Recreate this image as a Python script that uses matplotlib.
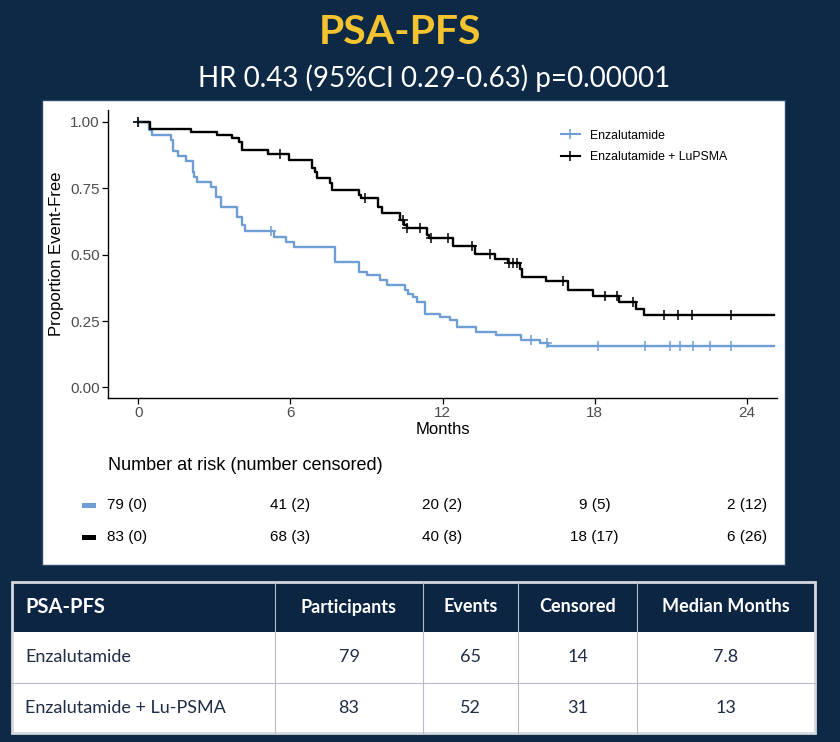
import numpy as np
import matplotlib
matplotlib.use("Agg")
import matplotlib.pyplot as plt
from matplotlib.patches import Rectangle
from matplotlib import transforms

# Kaplan-Meier step data (months, proportion event-free)
enza_times = [0, 0.43, 0.53, 1.29, 1.35, 1.55, 1.87, 2.14, 2.2, 2.33, 2.86, 3.05, 3.25,
              3.9, 4.1, 4.2, 5.35, 5.81, 6.13, 7.77, 8.69, 9.02, 9.54, 9.8, 10.52,
              10.65, 10.85, 11.0, 11.31, 11.9, 12.29, 12.56, 13.31, 14.13, 15.11,
              15.83, 16.16]
enza_surv = [1.0, 0.971, 0.952, 0.933, 0.889, 0.870, 0.851, 0.813, 0.794, 0.775, 0.756,
             0.718, 0.680, 0.642, 0.610, 0.589, 0.567, 0.548, 0.530, 0.473, 0.435,
             0.422, 0.404, 0.385, 0.366, 0.353, 0.340, 0.321, 0.278, 0.265, 0.252,
             0.227, 0.208, 0.196, 0.179, 0.166, 0.155]
enza_censor = [0, 5.22, 15.5, 16.12, 18.15, 19.98, 20.97, 21.37, 21.9, 22.56, 23.4]

lu_times = [0, 0.45, 2.07, 3.1, 3.7, 3.95, 4.1, 5.1, 5.94, 6.85, 6.95, 7.05, 7.55, 7.64,
            8.69, 8.8, 9.47, 9.6, 10.33, 10.5, 10.6, 11.37, 11.45, 12.42, 13.27, 14.06,
            14.58, 15.04, 15.15, 16.09, 16.94, 17.93, 18.97, 19.65, 19.96]
lu_surv = [1.0, 0.974, 0.962, 0.951, 0.939, 0.926, 0.893, 0.880, 0.855, 0.827, 0.813,
           0.788, 0.770, 0.744, 0.725, 0.712, 0.681, 0.656, 0.630, 0.612, 0.599, 0.575,
           0.561, 0.532, 0.502, 0.482, 0.469, 0.445, 0.416, 0.401, 0.368, 0.343, 0.320,
           0.297, 0.274]
lu_censor = [0, 5.58, 8.95, 10.45, 10.6, 11.1, 11.55, 12.2, 13.15, 13.86, 14.62, 14.8,
             14.94, 16.75, 18.4, 18.9, 19.5, 20.74, 21.3, 21.86, 23.4]

follow_up_end = 25.1

risk_months = [0, 6, 12, 18, 24]
risk_enza = ["79 (0)", "41 (2)", "20 (2)", "9 (5)", "2 (12)"]
risk_lu = ["83 (0)", "68 (3)", "40 (8)", "18 (17)", "6 (26)"]

table_cols = ["PSA-PFS", "Participants", "Events", "Censored", "Median Months"]
table_rows = [
    ["Enzalutamide", "79", "65", "14", "7.8"],
    ["Enzalutamide + Lu-PSMA", "83", "52", "31", "13"],
]

NAVY = "#0d2946"
YELLOW = "#f4c430"
BLUE = "#6e9ed3"
W, H = 840, 742

fig = plt.figure(figsize=(W / 100, H / 100), dpi=100, facecolor=NAVY)

# pixel-space background layer
bg = fig.add_axes([0, 0, 1, 1], zorder=0)
bg.set_xlim(0, W)
bg.set_ylim(H, 0)
bg.axis("off")
bg.add_patch(Rectangle((42, 100), 743, 465, facecolor="white", edgecolor="#2c4a6a", lw=1))

fig.text(400 / W, 1 - 32 / H, "PSA-PFS", color=YELLOW, fontsize=29.5, fontweight="bold",
         family="Lato", ha="center", va="center")
fig.text(434 / W, 1 - 78 / H, "HR 0.43 (95%CI 0.29-0.63) p=0.00001", color="white",
         fontsize=20, family="Lato", ha="center", va="center")

# KM plot
ax = fig.add_axes([108 / W, 1 - 398 / H, 669 / W, 288 / H], zorder=1)
ax.set_facecolor("white")


def surv_at(times, surv, t):
    idx = np.searchsorted(times, t, side="right") - 1
    return np.array(surv)[idx]


for times, surv, cens, col, lab in [
    (enza_times, enza_surv, enza_censor, BLUE, "Enzalutamide"),
    (lu_times, lu_surv, lu_censor, "black", "Enzalutamide + LuPSMA"),
]:
    t = list(times) + [follow_up_end]
    s = list(surv) + [surv[-1]]
    ax.step(t, s, where="post", color=col, lw=1.7, label=lab, zorder=2)
    ax.plot(cens, surv_at(times, surv, cens), "+", color=col, ms=7, mew=1.1, zorder=3)

# legend handles with cross markers
hs = [ax.plot([], [], color=c, lw=1.5, marker="+", ms=7, mew=1.1)[0] for c in (BLUE, "black")]
ax.legend(hs, ["Enzalutamide", "Enzalutamide + LuPSMA"], loc="upper left",
          bbox_to_anchor=(0.66, 0.97), frameon=False, prop={"family": "Liberation Sans", "size": 8.8},
          handlelength=1.6, labelspacing=0.8)

ax.set_xlim(-1.2, 25.2)
ax.set_ylim(-0.04, 1.045)
ax.set_xticks(risk_months)
ax.set_yticks([0, 0.25, 0.5, 0.75, 1.0])
ax.set_yticklabels(["0.00", "0.25", "0.50", "0.75", "1.00"])
for sp in ["top", "right"]:
    ax.spines[sp].set_visible(False)
for sp in ["left", "bottom"]:
    ax.spines[sp].set_linewidth(1.0)
ax.tick_params(direction="out", length=4, width=0.9, labelsize=11, labelcolor="#4d4d4d", pad=2)
for lbl in ax.get_xticklabels() + ax.get_yticklabels():
    lbl.set_family("Liberation Sans")
ax.set_xlabel("Months", family="Liberation Sans", fontsize=12, labelpad=1)
ax.set_ylabel("Proportion Event-Free", family="Liberation Sans", fontsize=12, labelpad=4)

# number at risk
trans = transforms.blended_transform_factory(ax.transData, fig.transFigure)
fig.text(108 / W, 1 - 466 / H, "Number at risk (number censored)", family="Liberation Sans",
         fontsize=13, va="center", ha="left")
for row_y, vals, col in [(505, risk_enza, BLUE), (537, risk_lu, "black")]:
    bg.add_patch(Rectangle((82, row_y - 2.5), 14, 5, facecolor=col, edgecolor="none"))
    for j, (m, v) in enumerate(zip(risk_months, vals)):
        xm = m - 0.45 if j == 0 else m
        fig.text(xm, 1 - row_y / H, v, transform=trans, family="Liberation Sans", fontsize=11,
                 ha="center", va="center")

# summary table
col_edges = [12, 275, 423, 518, 637, 815]
row_edges = [582, 632, 683, 733]
TXT = "#1f2d45"
bg.add_patch(Rectangle((col_edges[0], row_edges[0]), col_edges[-1] - col_edges[0],
                       row_edges[1] - row_edges[0], facecolor="#0c2543", edgecolor="none"))
bg.add_patch(Rectangle((col_edges[0], row_edges[1]), col_edges[-1] - col_edges[0],
                       row_edges[-1] - row_edges[1], facecolor="white", edgecolor="none"))
for x in col_edges[1:-1]:
    bg.plot([x, x], [row_edges[0], row_edges[-1]], color="#b7bcc6", lw=0.8)
bg.plot([col_edges[0], col_edges[-1]], [row_edges[2], row_edges[2]], color="#b7bcc6", lw=0.8)
bg.add_patch(Rectangle((col_edges[0], row_edges[0]), col_edges[-1] - col_edges[0],
                       row_edges[-1] - row_edges[0], facecolor="none", edgecolor="#d5d8de", lw=2))

for i, name in enumerate(table_cols):
    cy = (row_edges[0] + row_edges[1]) / 2
    if i == 0:
        bg.text(col_edges[0] + 13, cy, name, color="white", fontsize=14.5, fontweight="bold",
                family="Lato", ha="left", va="center")
    else:
        bg.text((col_edges[i] + col_edges[i + 1]) / 2, cy, name, color="white", fontsize=13,
                fontweight="bold", family="Lato", ha="center", va="center")
for r, row in enumerate(table_rows):
    cy = (row_edges[r + 1] + row_edges[r + 2]) / 2
    for i, v in enumerate(row):
        if i == 0:
            bg.text(col_edges[0] + 13, cy, v, color=TXT, fontsize=13, family="Lato",
                    ha="left", va="center")
        else:
            bg.text((col_edges[i] + col_edges[i + 1]) / 2, cy, v, color=TXT, fontsize=13,
                    family="Lato", ha="center", va="center")

fig.savefig("out.png", dpi=100, facecolor=NAVY)
